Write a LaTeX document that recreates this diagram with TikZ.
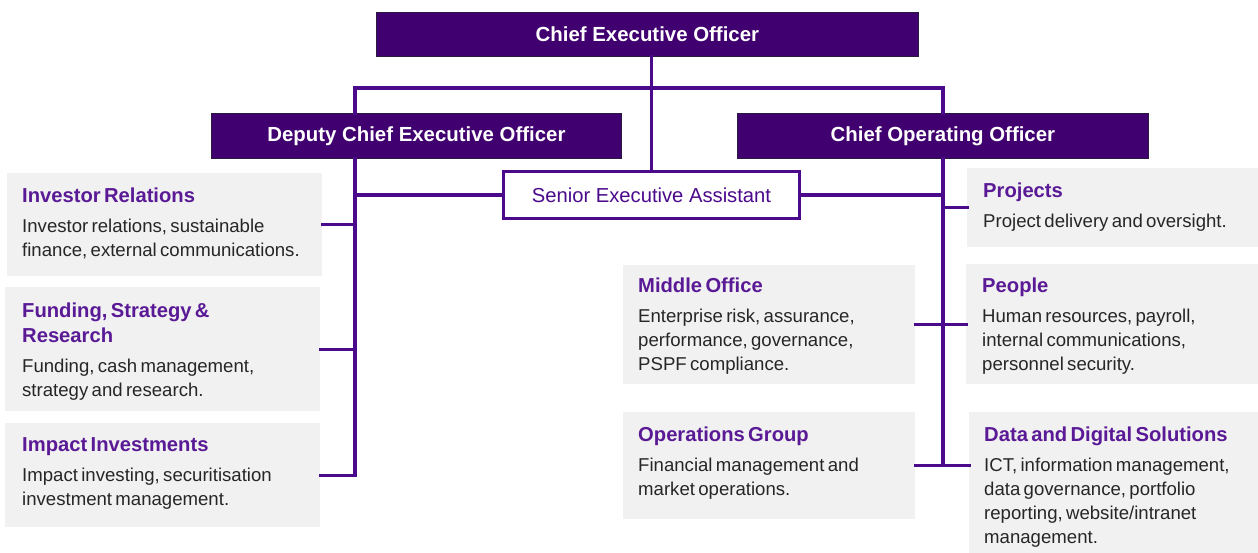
\documentclass[tikz,border=0pt]{standalone}
\usepackage{fontspec}
\setmainfont{Liberation Sans}
\definecolor{hdr}{HTML}{41006F}
\definecolor{hdrline}{HTML}{2A1A40}
\definecolor{lnc}{HTML}{4B0A8C}
\definecolor{ttl}{HTML}{5A1A96}
\definecolor{bodyc}{HTML}{262626}
\definecolor{cardbg}{HTML}{F1F1F1}
\newcommand{\cardtitle}{\fontsize{20.2}{25}\selectfont\bfseries\color{ttl}}
\newcommand{\cardbody}{\fontsize{18.6}{24}\selectfont\color{bodyc}}
\begin{document}
\begin{tikzpicture}[x=1pt,y=-1pt,
  header/.style={draw=hdrline,line width=0.8pt,fill=hdr,text=white,font=\fontsize{20.4}{24}\selectfont\bfseries,anchor=north west,inner sep=0pt},
  card/.style={fill=cardbg,draw=none,anchor=north west,inner sep=0pt},
  cardtext/.style={anchor=north west,inner sep=0pt,text width=300pt},
  conn/.style={draw=lnc,line width=3.2pt,line cap=rect,line join=miter},
  seabox/.style={draw=lnc,line width=3pt,fill=white,text=lnc,font=\fontsize{20.2}{24}\selectfont,anchor=north west,inner sep=0pt}]
\useasboundingbox (0,0) rectangle (1258,553);

% header boxes
\node[header,minimum width=542pt,minimum height=44pt] (ceo) at (376,12) {Chief Executive Officer};
\node[header,minimum width=410pt,minimum height=45pt] (dep) at (211,113) {Deputy Chief Executive Officer};
\node[header,minimum width=411pt,minimum height=45pt] (coo) at (737,113) {Chief Operating Officer};
\node[seabox,minimum width=296pt,minimum height=47pt] (sea) at (502,170) {Senior Executive Assistant};

% cards left
\node[card,minimum width=315pt,minimum height=103pt] (ir) at (7,173) {};
\node[cardtext] (irT) at ([xshift=15pt,yshift=-15pt]ir.north west)
 {\raggedright{\cardtitle Investor Relations\par}\vspace{6pt}{\cardbody Investor relations, sustainable\newline finance, external communications.\par}};
\node[card,minimum width=315pt,minimum height=124pt] (fund) at (5,287) {};
\node[cardtext] (fundT) at ([xshift=17pt,yshift=-16pt]fund.north west)
 {\raggedright{\cardtitle Funding, Strategy \&\newline Research\par}\vspace{6pt}{\cardbody Funding, cash management,\newline strategy and research.\par}};
\node[card,minimum width=315pt,minimum height=104pt] (imp) at (5,423) {};
\node[cardtext] (impT) at ([xshift=17pt,yshift=-14pt]imp.north west)
 {\raggedright{\cardtitle Impact Investments\par}\vspace{6pt}{\cardbody Impact investing, securitisation\newline investment management.\par}};

% cards middle
\node[card,minimum width=292pt,minimum height=119pt] (mo) at (623,265) {};
\node[cardtext] (moT) at ([xshift=15pt,yshift=-13pt]mo.north west)
 {\raggedright{\cardtitle Middle Office\par}\vspace{6pt}{\cardbody Enterprise risk, assurance,\newline performance, governance,\newline PSPF compliance.\par}};
\node[card,minimum width=292pt,minimum height=107pt] (og) at (623,412) {};
\node[cardtext] (ogT) at ([xshift=15pt,yshift=-15pt]og.north west)
 {\raggedright{\cardtitle Operations Group\par}\vspace{6pt}{\cardbody Financial management and\newline market operations.\par}};

% cards right
\node[card,minimum width=291pt,minimum height=79pt] (proj) at (967,168) {};
\node[cardtext] (projT) at ([xshift=16pt,yshift=-15pt]proj.north west)
 {\raggedright{\cardtitle Projects\par}\vspace{6pt}{\cardbody Project delivery and oversight.\par}};
\node[card,minimum width=292pt,minimum height=120pt] (pe) at (966,264) {};
\node[cardtext] (peT) at ([xshift=16pt,yshift=-14pt]pe.north west)
 {\raggedright{\cardtitle People\par}\vspace{6pt}{\cardbody Human resources, payroll,\newline internal communications,\newline personnel security.\par}};
\node[card,minimum width=289pt,minimum height=141pt] (dds) at (969,412) {};
\node[cardtext] (ddsT) at ([xshift=15pt,yshift=-15pt]dds.north west)
 {\raggedright{\cardtitle Data and Digital Solutions\par}\vspace{6pt}{\cardbody ICT, information management,\newline data governance, portfolio\newline reporting, website/intranet\newline management.\par}};

% junction coordinates
\coordinate (jL) at (355,88);
\coordinate (jR) at (943,88);

% connectors
\draw[conn] (jL |- dep.north) -- (jL) -- (jR) -- (jR |- coo.north);
\draw[conn] (ceo.south -| sea.north) -- (sea.north);
\draw[conn] (jL |- dep.south) -- (jL |- imp.east) -- (imp.east);
\draw[conn] (ir.east) -- (ir.east -| jL);
\draw[conn] (fund.east) -- (fund.east -| jL);
\draw[conn] (sea.west) -- (sea.west -| jL);
\draw[conn] (jR |- coo.south) -- (jR |- og.east);
\draw[conn] (sea.east) -- (sea.east -| jR);
\draw[conn] (proj.west) -- (proj.west -| jR);
\draw[conn] (mo.east) -- (mo.east -| pe.west);
\draw[conn] (og.east) -- (og.east -| dds.west);
\end{tikzpicture}
\end{document}
